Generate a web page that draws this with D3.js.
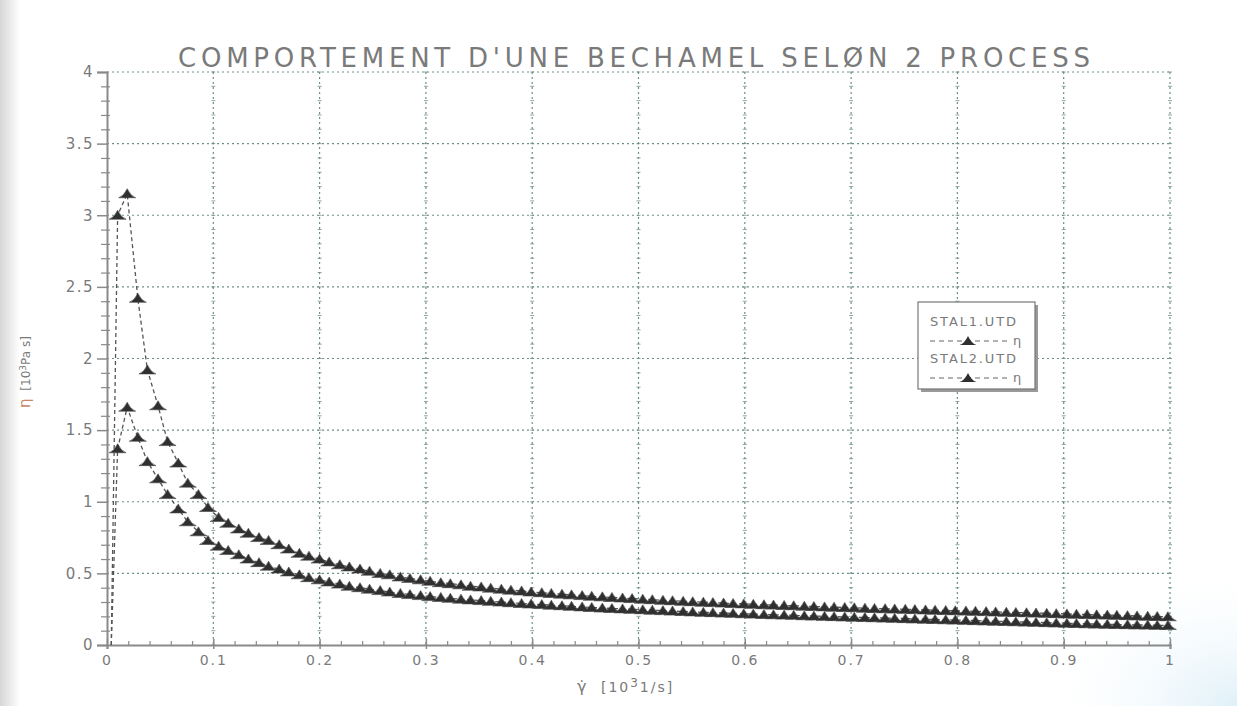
<!DOCTYPE html>
<html><head><meta charset="utf-8">
<script src="https://cdn.jsdelivr.net/npm/d3@7/dist/d3.min.js"></script>
<style>
html,body{margin:0;padding:0;background:#fff;}
svg{display:block;}
text{font-family:"DejaVu Sans",sans-serif;fill:#7a7a7a;}
</style></head>
<body>
<svg id="chart" width="1237" height="706"></svg>
<script>
// ---- data ----
const titleText = "COMPORTEMENT D'UNE BECHAMEL SELØN 2 PROCESS";
const seriesNames = ["STAL1.UTD", "STAL2.UTD"];
const xTicks = [0, 0.1, 0.2, 0.3, 0.4, 0.5, 0.6, 0.7, 0.8, 0.9, 1];
const xTickLabels = ["0", "0.1", "0.2", "0.3", "0.4", "0.5", "0.6", "0.7", "0.8", "0.9", "1"];
const yTicks = [0, 0.5, 1, 1.5, 2, 2.5, 3, 3.5, 4];
const yTickLabels = ["0", "0.5", "1", "1.5", "2", "2.5", "3", "3.5", "4"];

const shearRate = [0.004,
 0.010, 0.019, 0.029, 0.038, 0.048, 0.057, 0.067, 0.076, 0.086, 0.095,
 0.105, 0.114, 0.124, 0.133, 0.143, 0.152, 0.162, 0.171, 0.181, 0.190,
 0.200, 0.209, 0.219, 0.228, 0.238, 0.247, 0.257, 0.266, 0.276, 0.285,
 0.295, 0.304, 0.314, 0.323, 0.333, 0.342, 0.352, 0.361, 0.371, 0.380,
 0.390, 0.399, 0.409, 0.418, 0.428, 0.437, 0.447, 0.456, 0.466, 0.475,
 0.485, 0.494, 0.504, 0.513, 0.523, 0.532, 0.542, 0.551, 0.561, 0.570,
 0.580, 0.589, 0.599, 0.608, 0.618, 0.627, 0.637, 0.646, 0.656, 0.665,
 0.675, 0.684, 0.694, 0.703, 0.713, 0.722, 0.732, 0.741, 0.751, 0.760,
 0.770, 0.779, 0.789, 0.798, 0.808, 0.817, 0.827, 0.836, 0.846, 0.855,
 0.865, 0.874, 0.884, 0.893, 0.903, 0.912, 0.922, 0.931, 0.941, 0.950,
 0.960, 0.969, 0.979, 0.988, 0.998];

const stal1 = [0,
 3.00, 3.15, 2.42, 1.92, 1.67, 1.42, 1.27, 1.13, 1.05, 0.96,
 0.89, 0.85, 0.81, 0.78, 0.75, 0.73, 0.70, 0.67, 0.64, 0.62,
 0.60, 0.58, 0.56, 0.545, 0.53, 0.515, 0.50, 0.49, 0.475, 0.465,
 0.455, 0.445, 0.435, 0.428, 0.42, 0.41, 0.405, 0.397, 0.39, 0.383,
 0.377, 0.37, 0.365, 0.36, 0.355, 0.35, 0.345, 0.34, 0.336, 0.332,
 0.328, 0.324, 0.32, 0.316, 0.312, 0.309, 0.305, 0.302, 0.299, 0.296,
 0.293, 0.29, 0.287, 0.284, 0.281, 0.279, 0.276, 0.274, 0.271, 0.269,
 0.266, 0.264, 0.262, 0.26, 0.257, 0.255, 0.253, 0.251, 0.249, 0.247,
 0.245, 0.243, 0.241, 0.239, 0.237, 0.235, 0.233, 0.231, 0.229, 0.227,
 0.225, 0.223, 0.221, 0.219, 0.217, 0.215, 0.213, 0.211, 0.209, 0.207,
 0.205, 0.203, 0.201, 0.199, 0.197];

const stal2 = [0,
 1.37, 1.66, 1.45, 1.28, 1.16, 1.05, 0.95, 0.86, 0.79, 0.73,
 0.69, 0.66, 0.63, 0.60, 0.575, 0.55, 0.53, 0.51, 0.49, 0.47,
 0.455, 0.44, 0.425, 0.41, 0.40, 0.39, 0.38, 0.37, 0.36, 0.352,
 0.345, 0.338, 0.332, 0.326, 0.32, 0.315, 0.31, 0.305, 0.30, 0.295,
 0.29, 0.286, 0.282, 0.278, 0.274, 0.27, 0.266, 0.262, 0.258, 0.255,
 0.252, 0.249, 0.246, 0.243, 0.24, 0.237, 0.234, 0.231, 0.228, 0.226,
 0.223, 0.221, 0.218, 0.216, 0.213, 0.211, 0.209, 0.207, 0.204, 0.202,
 0.2, 0.198, 0.196, 0.194, 0.192, 0.19, 0.188, 0.186, 0.184, 0.182,
 0.18, 0.178, 0.176, 0.174, 0.172, 0.17, 0.168, 0.166, 0.164, 0.162,
 0.16, 0.158, 0.156, 0.154, 0.152, 0.15, 0.148, 0.146, 0.145, 0.143,
 0.142, 0.14, 0.139, 0.137, 0.136];

// ---- layout ----
const svg = d3.select("#chart");
const W = 1237, H = 706;
const M = {left: 107, top: 72, right: 1237 - 1170, bottom: 706 - 645};
const iw = W - M.left - M.right, ih = H - M.top - M.bottom;

// background: faint grey strip on the left edge and blue tint in bottom-right corner, as in the scan
const defs = svg.append("defs");
const lg = defs.append("linearGradient").attr("id", "edge").attr("x1", 0).attr("x2", 1);
lg.append("stop").attr("offset", 0).attr("stop-color", "#d6d6d6");
lg.append("stop").attr("offset", 1).attr("stop-color", "#ffffff");
svg.append("rect").attr("x", 0).attr("y", 0).attr("width", 20).attr("height", H).attr("fill", "url(#edge)");
const rg = defs.append("radialGradient").attr("id", "corner")
  .attr("cx", 1).attr("cy", 1).attr("r", 1);
rg.append("stop").attr("offset", 0).attr("stop-color", "#dff0f8").attr("stop-opacity", 1);
rg.append("stop").attr("offset", 1).attr("stop-color", "#ffffff").attr("stop-opacity", 0);
svg.append("rect").attr("x", 1037).attr("y", 560).attr("width", 200).attr("height", 146).attr("fill", "url(#corner)");

const x = d3.scaleLinear().domain([0, 1]).range([0, iw]);
const y = d3.scaleLinear().domain([0, 4]).range([ih, 0]);

const g = svg.append("g").attr("transform", `translate(${M.left},${M.top})`);

// grid
const gridColor = "#6f8f8c";
g.append("g").attr("class", "gridx")
  .selectAll("line").data(xTicks.filter(d => d > 0)).join("line")
  .attr("x1", d => x(d)).attr("x2", d => x(d)).attr("y1", 0).attr("y2", ih)
  .attr("stroke", gridColor).attr("stroke-width", 1.2).attr("stroke-dasharray", "2,3");
g.append("g").attr("class", "gridy")
  .selectAll("line").data(yTicks.filter(d => d > 0)).join("line")
  .attr("x1", 0).attr("x2", iw).attr("y1", d => y(d)).attr("y2", d => y(d))
  .attr("stroke", gridColor).attr("stroke-width", 1.2).attr("stroke-dasharray", "2,3");

// small tick marks along the vertical grid lines (plotter style)
const yMinor = d3.range(0, 41).map(i => i / 10);
xTicks.filter(d => d > 0).forEach(xv => {
  g.append("g").selectAll("line").data(yMinor).join("line")
    .attr("x1", x(xv) - 2).attr("x2", x(xv) + 2)
    .attr("y1", d => y(d)).attr("y2", d => y(d))
    .attr("stroke", gridColor).attr("stroke-width", 0.8);
});

// y axis
const yAxis = g.append("g")
  .call(d3.axisLeft(y).tickValues(yTicks).tickFormat((d, i) => yTickLabels[i]).tickSize(10).tickPadding(3));
yAxis.select(".domain").attr("stroke", "#8a8a8a").attr("stroke-width", 2);
yAxis.selectAll(".tick line").attr("stroke", "#8a8a8a").attr("stroke-width", 1.5);
yAxis.selectAll(".tick text").style("font-size", "15px").attr("fill", "#7a7a7a")
  .style("font-family", "DejaVu Sans").style("letter-spacing", "1.5px");
const yMinorAxis = g.append("g")
  .call(d3.axisLeft(y).tickValues(yMinor.filter(d => Math.round(d * 10) % 5 !== 0)).tickSize(6).tickFormat(""));
yMinorAxis.select(".domain").remove();
yMinorAxis.selectAll(".tick line").attr("x1", 3).attr("stroke", "#8a8a8a").attr("stroke-width", 1.2);

// x axis
const xAxis = g.append("g").attr("transform", `translate(0,${ih})`)
  .call(d3.axisBottom(x).tickValues(xTicks).tickFormat((d, i) => xTickLabels[i]).tickSize(4).tickPadding(6));
xAxis.select(".domain").attr("stroke", "#8a8a8a").attr("stroke-width", 2);
xAxis.selectAll(".tick line").attr("y1", -6).attr("stroke", "#8a8a8a").attr("stroke-width", 1.5);
xAxis.selectAll(".tick text").style("font-size", "14px").attr("fill", "#7a7a7a")
  .style("font-family", "DejaVu Sans").style("letter-spacing", "2px");
const xMinor = d3.range(0, 51).map(i => i / 50).filter(d => Math.round(d * 50) % 5 !== 0);
const xMinorAxis = g.append("g").attr("transform", `translate(0,${ih})`)
  .call(d3.axisBottom(x).tickValues(xMinor).tickSize(0).tickFormat(""));
xMinorAxis.select(".domain").remove();
xMinorAxis.selectAll(".tick line").attr("y1", -4).attr("y2", 1).attr("stroke", "#8a8a8a").attr("stroke-width", 1.2);

// series
const pts1 = shearRate.map((s, i) => [s, stal1[i]]);
const pts2 = shearRate.map((s, i) => [s, stal2[i]]);
const line = d3.line().x(d => x(d[0])).y(d => y(d[1]));
const tri = "M-8.5,4 Q-3.5,2.5 0,-5 Q3.5,2.5 8.5,4 Z";
[pts2, pts1].forEach(pts => {
  g.append("path").datum(pts).attr("d", line).attr("fill", "none")
    .attr("stroke", "#555").attr("stroke-width", 1.3).attr("stroke-dasharray", "4,3");
  g.append("g").selectAll("path").data(pts.slice(1)).join("path")
    .attr("transform", d => `translate(${x(d[0])},${y(d[1])})`)
    .attr("d", tri).attr("fill", "#2f2f2f").attr("stroke", "#444").attr("stroke-width", 0.6);
});

// title
svg.append("text").attr("x", 178).attr("y", 67).text(titleText)
  .style("font-size", "26px").attr("fill", "#6e6e6e")
  .attr("textLength", 912).attr("lengthAdjust", "spacing");

// y axis label
const yl = svg.append("text").attr("transform", "translate(30,408) rotate(-90)")
  .style("font-size", "12px");
yl.append("tspan").text("η").attr("fill", "#c8876a").style("font-size", "15px");
yl.append("tspan").text(" [10").attr("dx", 4);
yl.append("tspan").text("3").attr("dy", -4).style("font-size", "9px");
yl.append("tspan").text("Pa s]").attr("dy", 4);

// x axis label
const xl = svg.append("text").attr("x", 577).attr("y", 692).style("font-size", "14px").style("letter-spacing", "2px");
xl.append("tspan").text("γ̇").style("font-size", "16px");
xl.append("tspan").text(" [10").attr("dx", 6);
xl.append("tspan").text("3").attr("dy", -5).style("font-size", "12px");
xl.append("tspan").text("1/s]").attr("dy", 5);

// legend
const lgX = 918, lgY = 302, lgW = 117, lgH = 87;
svg.append("rect").attr("x", lgX + 3).attr("y", lgY + 3).attr("width", lgW).attr("height", lgH).attr("fill", "#9a9a9a");
svg.append("rect").attr("x", lgX).attr("y", lgY).attr("width", lgW).attr("height", lgH)
  .attr("fill", "#fff").attr("stroke", "#777").attr("stroke-width", 1.2);
seriesNames.forEach((name, i) => {
  const ty = lgY + 24 + i * 37;
  svg.append("text").attr("x", lgX + 12).attr("y", ty).text(name)
    .style("font-size", "13px").attr("textLength", 86).attr("lengthAdjust", "spacing").attr("fill", "#777");
  const ly = ty + 15;
  svg.append("line").attr("x1", lgX + 12).attr("x2", lgX + 92).attr("y1", ly).attr("y2", ly)
    .attr("stroke", "#666").attr("stroke-width", 1.2).attr("stroke-dasharray", "5,4");
  svg.append("path").attr("transform", `translate(${lgX + 50},${ly})`).attr("d", tri).attr("fill", "#2f2f2f");
  svg.append("text").attr("x", lgX + 95).attr("y", ly + 4).text("η").style("font-size", "13px").attr("fill", "#777");
});
</script>
</body></html>
